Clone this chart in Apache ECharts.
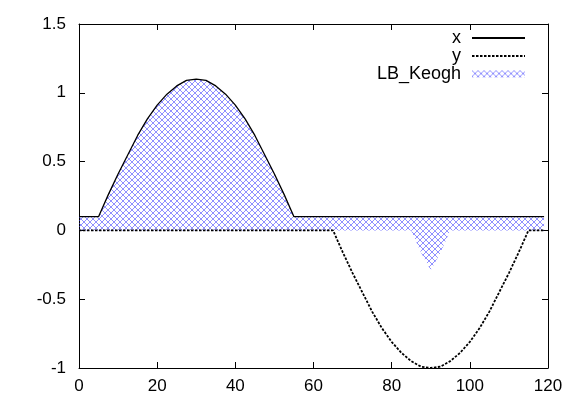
<!DOCTYPE html>
<html>
<head>
<meta charset="utf-8">
<script src="https://cdn.jsdelivr.net/npm/echarts@6/dist/echarts.min.js"></script>
<style>
  html, body { margin: 0; padding: 0; background: #fff; }
  #chart { width: 581px; height: 407px; }
</style>
</head>
<body>
<div id="chart"></div>
<script>
// sample positions along the x axis
const ts = [0, 2.5, 5, 7.5, 10, 12.5, 15, 17.5, 20, 22.5, 25, 27.5, 30, 32.5, 35, 37.5, 40,
  42.5, 45, 47.5, 50, 52.5, 55, 57.5, 60, 62.5, 65, 67.5, 70, 72.5, 75, 77.5, 80, 82.5, 85,
  87.5, 90, 92.5, 95, 97.5, 100, 102.5, 105, 107.5, 110, 112.5, 115, 117.5, 119]

// series x (solid)
const xVals = [0.1, 0.1, 0.1, 0.26, 0.41, 0.55, 0.69, 0.81, 0.91, 0.99, 1.05, 1.09, 1.1, 1.09,
  1.05, 0.99, 0.91, 0.81, 0.69, 0.55, 0.41, 0.26, 0.1, 0.1, 0.1, 0.1, 0.1, 0.1, 0.1, 0.1, 0.1,
  0.1, 0.1, 0.1, 0.1, 0.1, 0.1, 0.1, 0.1, 0.1, 0.1, 0.1, 0.1, 0.1, 0.1, 0.1, 0.1, 0.1, 0.1]

// series y (dotted)
const yVals = [0, 0, 0, 0, 0, 0, 0, 0, 0, 0, 0, 0, 0, 0, 0, 0, 0, 0, 0, 0, 0, 0, 0, 0, 0, 0,
  0, -0.16, -0.31, -0.45, -0.59, -0.71, -0.81, -0.89, -0.95, -0.99, -1, -0.99, -0.95, -0.89,
  -0.81, -0.71, -0.59, -0.45, -0.31, -0.16, 0, 0, 0]

// lower edge of the LB_Keogh area (envelope of y), dips below 0 only around 90
const lbLower = [0, 0, 0, 0, 0, 0, 0, 0, 0, 0, 0, 0, 0, 0, 0, 0, 0, 0, 0, 0, 0, 0, 0, 0, 0, 0,
  0, 0, 0, 0, 0, 0, 0, 0, 0, -0.16, -0.29, -0.16, 0, 0, 0, 0, 0, 0, 0, 0, 0, 0, 0]

const xTicks = [0, 20, 40, 60, 80, 100, 120]
const yTicks = [-1, -0.5, 0, 0.5, 1, 1.5]

const font = 'Liberation Sans, Arial, sans-serif'

function hatch() {
  const c = document.createElement('canvas')
  c.width = 6
  c.height = 6
  const g = c.getContext('2d')
  g.strokeStyle = 'rgba(70,70,255,0.6)'
  g.lineWidth = 1
  g.beginPath()
  g.moveTo(0, 0); g.lineTo(6, 6)
  g.moveTo(0, 6); g.lineTo(6, 0)
  g.stroke()
  return { image: c, repeat: 'repeat' }
}
const pattern = hatch()

const pairs = vals => ts.map((t, i) => [t, vals[i]])

const chart = echarts.init(document.getElementById('chart'), null, { renderer: 'canvas' })

const tickStyle = { inside: true, length: 6, lineStyle: { color: '#000' } }
const borderLine = { show: true, onZero: false, lineStyle: { color: '#000' } }
const noDot = { opacity: 0 }

chart.setOption({
  animation: false,
  grid: { left: 79, right: 33, top: 24, bottom: 39 },
  legend: {
    orient: 'vertical',
    align: 'right',
    right: 50,
    top: 24,
    itemWidth: 53,
    itemHeight: 7,
    itemGap: 0,
    textStyle: { fontFamily: font, fontSize: 18, color: '#000', padding: [0, 6, 0, 0] },
    data: [
      { name: 'x', itemStyle: noDot },
      { name: 'y', itemStyle: noDot },
      { name: 'LB_Keogh', icon: 'rect', itemStyle: { color: pattern, opacity: 1 } }
    ]
  },
  xAxis: [{
    type: 'value',
    min: xTicks[0],
    max: xTicks[xTicks.length - 1],
    interval: 20,
    axisLine: borderLine,
    axisTick: tickStyle,
    axisLabel: { color: '#000', fontFamily: font, fontSize: 17, margin: 10 },
    splitLine: { show: false }
  }, {
    type: 'value',
    position: 'top',
    min: xTicks[0],
    max: xTicks[xTicks.length - 1],
    interval: 20,
    axisLine: borderLine,
    axisTick: tickStyle,
    axisLabel: { show: false },
    splitLine: { show: false }
  }],
  yAxis: [{
    type: 'value',
    min: yTicks[0],
    max: yTicks[yTicks.length - 1],
    interval: 0.5,
    axisLine: borderLine,
    axisTick: tickStyle,
    axisLabel: { color: '#000', fontFamily: font, fontSize: 17, margin: 13 },
    splitLine: { show: false }
  }, {
    type: 'value',
    position: 'right',
    min: yTicks[0],
    max: yTicks[yTicks.length - 1],
    interval: 0.5,
    axisLine: borderLine,
    axisTick: tickStyle,
    axisLabel: { show: false },
    splitLine: { show: false }
  }],
  series: [
    {
      // hatched area between 0 and x
      name: 'LB_Keogh',
      type: 'line',
      symbol: 'none',
      data: pairs(xVals),
      lineStyle: { width: 0 },
      itemStyle: { color: '#6f6fff' },
      areaStyle: { color: pattern, opacity: 1 }
    },
    {
      // hatched dip below 0 around 90
      name: 'lbLow',
      type: 'line',
      symbol: 'none',
      data: pairs(lbLower),
      lineStyle: { width: 0 },
      areaStyle: { color: pattern, opacity: 1 },
      silent: true
    },
    {
      name: 'x',
      type: 'line',
      symbol: 'none',
      data: pairs(xVals),
      itemStyle: { color: '#000' },
      lineStyle: { color: '#000', width: 1.3 },
      z: 5
    },
    {
      name: 'y',
      type: 'line',
      symbol: 'none',
      data: pairs(yVals),
      itemStyle: { color: '#000' },
      lineStyle: { color: '#000', width: 1.8, type: [2.5, 1.5] },
      z: 5
    }
  ]
})
</script>
</body>
</html>
